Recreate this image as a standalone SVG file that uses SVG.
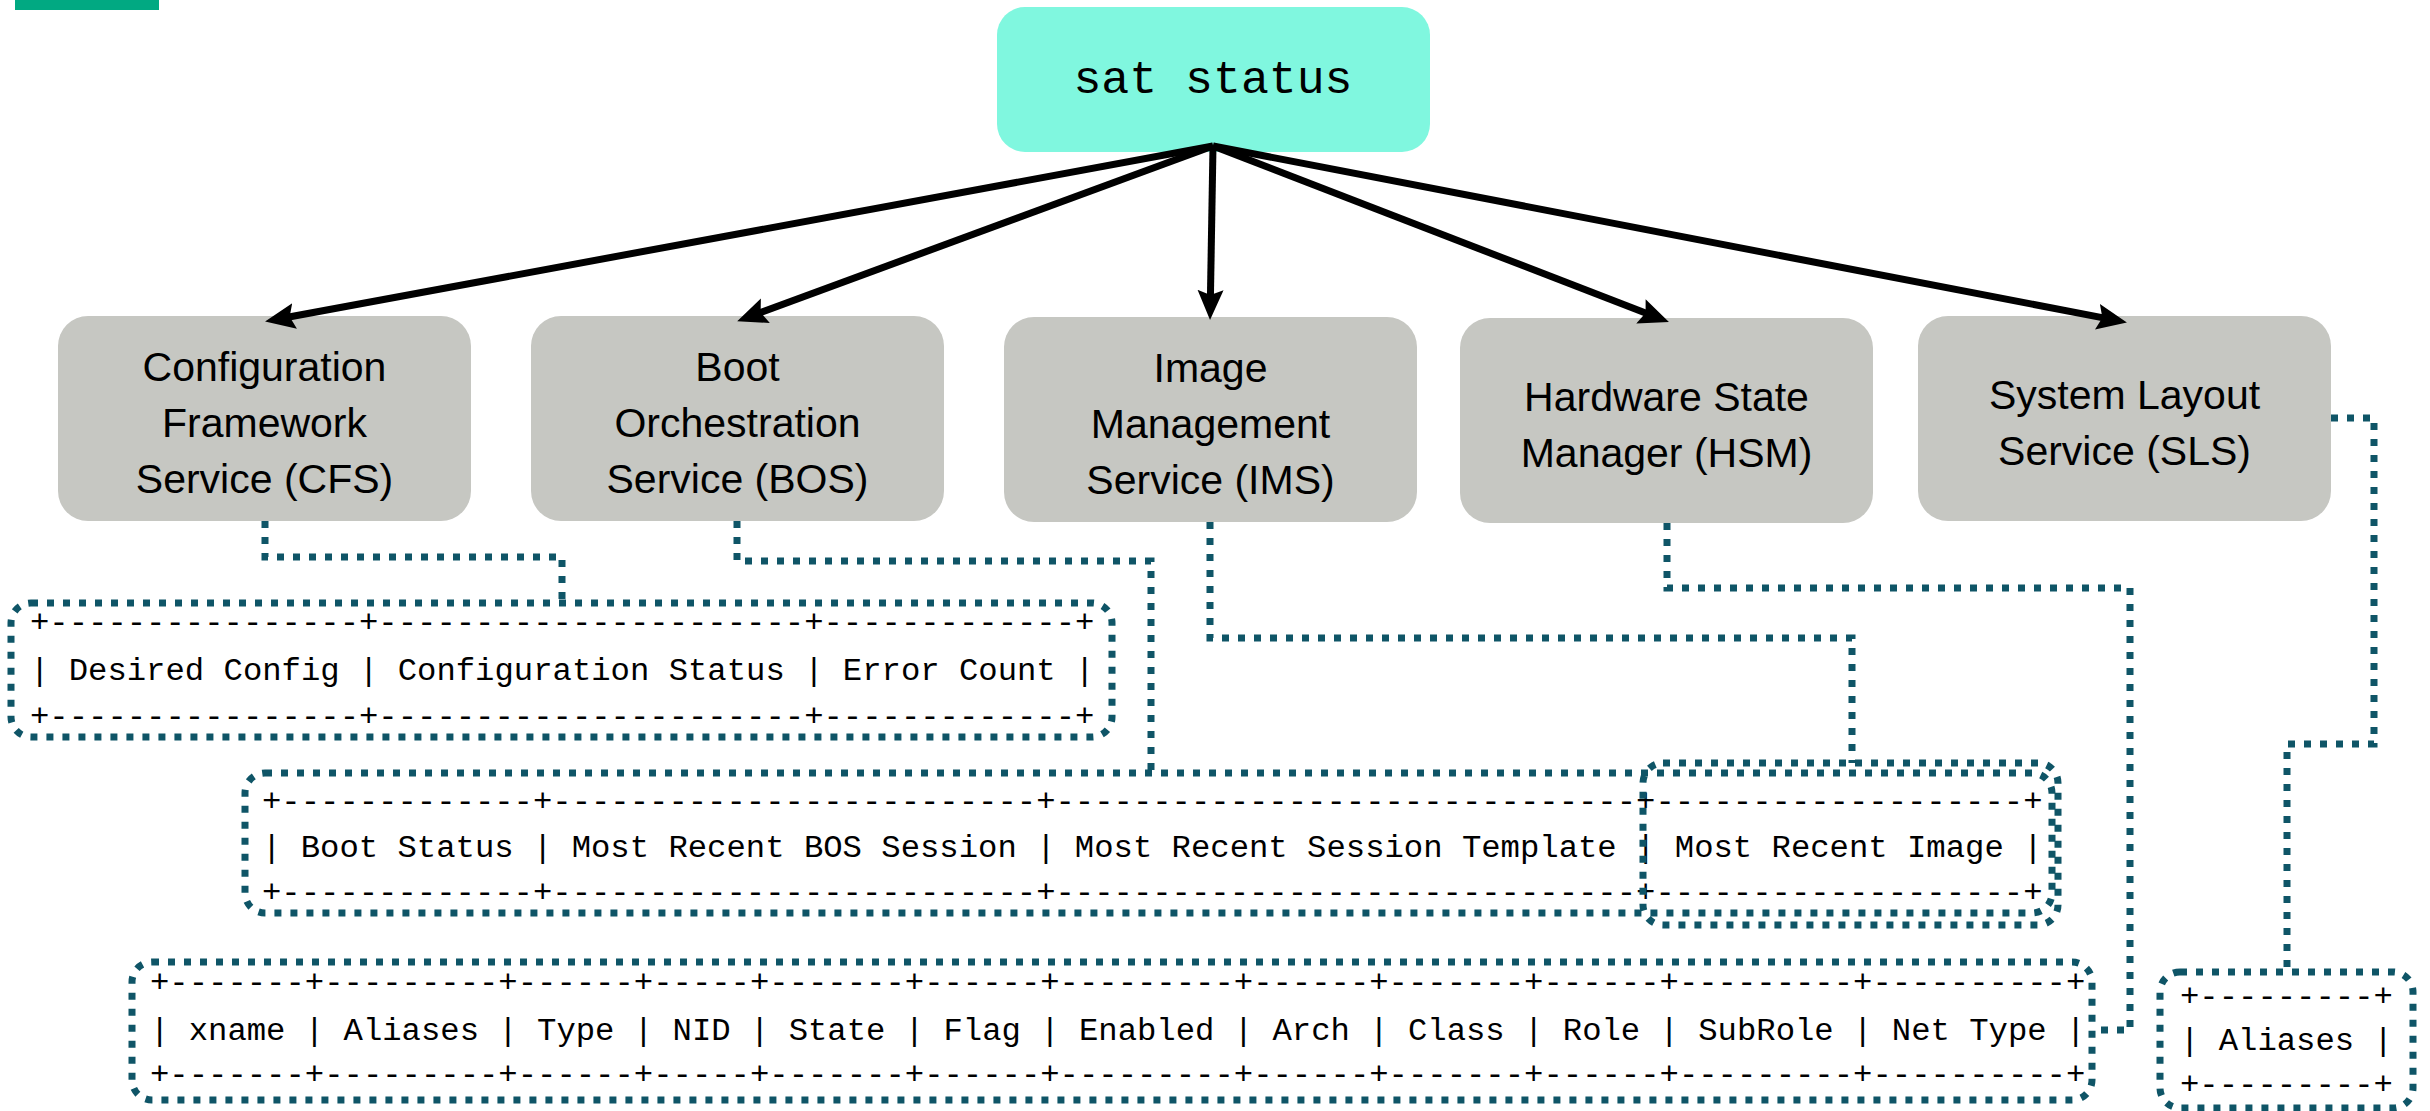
<svg xmlns="http://www.w3.org/2000/svg" width="2430" height="1111" viewBox="0 0 2430 1111">
  <style>
    .svc rect { fill: #C6C7C2; }
    .svc text { font-family: "Liberation Sans", Arial, sans-serif; font-size: 41px; fill: #000; text-anchor: middle; }
    .cmd rect { fill: #80F7DF; }
    .cmd text { font-family: "Liberation Mono", "Courier New", monospace; font-size: 46.5px; fill: #000; text-anchor: middle; }
    .tbl text { font-family: "Liberation Mono", "Courier New", monospace; font-size: 32.25px; fill: #000; white-space: pre; }
    .frame { fill: none; stroke: #0F5567; stroke-width: 7; stroke-dasharray: 7 9; }
    .dot { fill: none; stroke: #0F5567; stroke-width: 7; stroke-dasharray: 7 9; }
    .arrow { fill: none; stroke: #000; stroke-width: 7; marker-end: url(#head); }
  </style>
  <defs>
    <marker id="head" markerUnits="userSpaceOnUse" markerWidth="32" markerHeight="28" refX="14" refY="13" orient="auto">
      <path d="M0,0 L30,13 L0,26 L5,13 Z" fill="#000"/>
    </marker>
  </defs>

  <!-- brand accent bar -->
  <rect x="15" y="0" width="144" height="10" fill="#01A982"/>

  <!-- root command -->
  <g id="sat-status" class="cmd">
    <rect x="997" y="7" width="433" height="145" rx="28"/>
    <text x="1213" y="93">sat status</text>
  </g>

  <!-- services -->
  <g id="cfs" class="svc">
    <rect x="58" y="316" width="413" height="205" rx="30"/>
    <text x="264.5" y="381">Configuration</text>
    <text x="264.5" y="437">Framework</text>
    <text x="264.5" y="493">Service (CFS)</text>
  </g>
  <g id="bos" class="svc">
    <rect x="531" y="316" width="413" height="205" rx="30"/>
    <text x="737.5" y="381">Boot</text>
    <text x="737.5" y="437">Orchestration</text>
    <text x="737.5" y="493">Service (BOS)</text>
  </g>
  <g id="ims" class="svc">
    <rect x="1004" y="317" width="413" height="205" rx="30"/>
    <text x="1210.5" y="382">Image</text>
    <text x="1210.5" y="438">Management</text>
    <text x="1210.5" y="494">Service (IMS)</text>
  </g>
  <g id="hsm" class="svc">
    <rect x="1460" y="318" width="413" height="205" rx="30"/>
    <text x="1666.5" y="411">Hardware State</text>
    <text x="1666.5" y="467">Manager (HSM)</text>
  </g>
  <g id="sls" class="svc">
    <rect x="1918" y="316" width="413" height="205" rx="30"/>
    <text x="2124.5" y="409">System Layout</text>
    <text x="2124.5" y="465">Service (SLS)</text>
  </g>

  <!-- output tables -->
  <g id="cfs-table" class="tbl">
    <text x="30" y="632">+----------------+----------------------+-------------+</text>
    <text x="30" y="680">| Desired Config | Configuration Status | Error Count |</text>
    <text x="30" y="726">+----------------+----------------------+-------------+</text>
    <rect class="frame" x="11" y="603" width="1101" height="134" rx="20"/>
  </g>
  <g id="bos-table" class="tbl">
    <text x="262" y="811">+-------------+-------------------------+------------------------------+-------------------+</text>
    <text x="262" y="857">| Boot Status | Most Recent BOS Session | Most Recent Session Template | Most Recent Image |</text>
    <text x="262" y="902">+-------------+-------------------------+------------------------------+-------------------+</text>
    <rect class="frame" x="245" y="773" width="1807" height="140" rx="20"/>
  </g>
  <g id="ims-column" class="tbl">
    <rect class="frame" x="1643" y="763" width="415" height="162" rx="20"/>
  </g>
  <g id="hsm-table" class="tbl">
    <text x="150" y="992">+-------+---------+------+-----+-------+------+---------+------+-------+------+---------+----------+</text>
    <text x="150" y="1040">| xname | Aliases | Type | NID | State | Flag | Enabled | Arch | Class | Role | SubRole | Net Type |</text>
    <text x="150" y="1084">+-------+---------+------+-----+-------+------+---------+------+-------+------+---------+----------+</text>
    <rect class="frame" x="132" y="962" width="1960" height="138" rx="20"/>
  </g>
  <g id="sls-table" class="tbl">
    <text x="2180" y="1006">+---------+</text>
    <text x="2180" y="1050">| Aliases |</text>
    <text x="2180" y="1094">+---------+</text>
    <rect class="frame" x="2160" y="972" width="253" height="136" rx="20"/>
  </g>

  <!-- connectors -->
  <g id="connectors">
    <path class="arrow" d="M1213,146 L280.8,318.5"/>
    <path class="arrow" d="M1213,146 L752.2,315.6"/>
    <path class="arrow" d="M1213,146 L1210.3,304"/>
    <path class="arrow" d="M1213,146 L1654,316.3"/>
    <path class="arrow" d="M1213,146 L2111.2,319.4"/>

    <path class="dot" d="M265,521 V557 H562 V603"/>
    <path class="dot" d="M737,521 V561 H1151 V773"/>
    <path class="dot" d="M1210,522 V638 H1852 V763"/>
    <path class="dot" d="M1667,523 V588 H2130 V1030 H2092"/>
    <path class="dot" d="M2331,418 H2374 V744 H2287 V972"/>
  </g>
</svg>
